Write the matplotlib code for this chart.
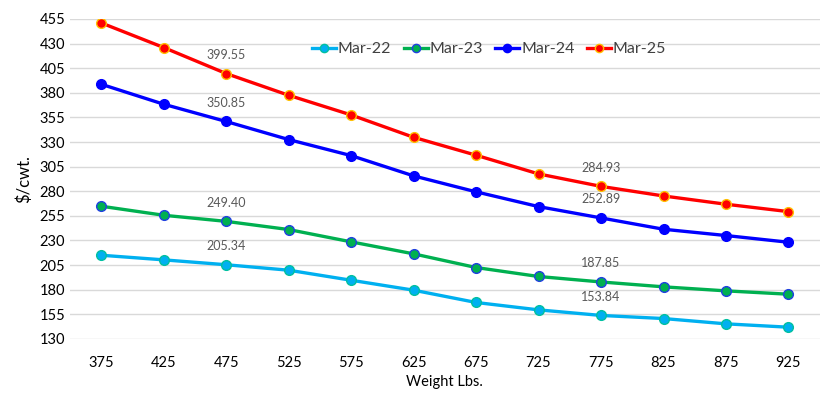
import matplotlib.pyplot as plt
import numpy as np

# Data
weights = [375, 425, 475, 525, 575, 625, 675, 725, 775, 825, 875, 925]
mar22 = [215.0, 210.3, 205.34, 199.8, 189.6, 179.5, 167.0, 159.5, 153.84, 150.7, 145.3, 141.9]
mar23 = [264.8, 255.6, 249.40, 241.1, 228.6, 216.4, 202.5, 193.4, 187.85, 182.9, 178.8, 175.4]
mar24 = [388.7, 368.4, 350.85, 332.5, 316.2, 295.6, 279.4, 264.4, 252.89, 241.4, 235.0, 228.2]
mar25 = [451.0, 426.0, 399.55, 377.5, 357.5, 334.8, 316.6, 297.6, 284.93, 275.2, 266.8, 259.3]
labels = ['Mar-22', 'Mar-23', 'Mar-24', 'Mar-25']
label_idx = [2, 8]  # points that carry a value label (475 and 775)

plt.rcParams['font.family'] = ['Lato', 'DejaVu Sans']

fig = plt.figure(figsize=(8.28, 3.95), dpi=100)
ax = fig.add_axes([0.0845, 0.142, 0.9055, 0.810])

x = np.arange(len(weights))
styles = [
    (mar22, '#00B0F0', '#00B0F0', '#00C0A0'),
    (mar23, '#00B050', '#00B050', '#2040E0'),
    (mar24, '#0000FF', '#0000FF', '#0000FF'),
    (mar25, '#FF0000', '#FF0000', '#FFC000'),
]
for (vals, col, face, edge), lab in zip(styles, labels):
    ax.plot(x, vals, color=col, linewidth=2.4, marker='o', markersize=7,
            markerfacecolor=face, markeredgecolor=edge, markeredgewidth=1.0,
            label=lab, zorder=3)
    for i in label_idx:
        ax.annotate(f'{vals[i]:.2f}', (x[i], vals[i]), xytext=(0, 9),
                    textcoords='offset points', ha='center', va='bottom',
                    fontsize=9, color='#595959')

ax.set_xlim(-0.5, len(weights) - 0.5)
ax.set_ylim(130, 455)
ax.set_yticks(np.arange(130, 456, 25))
ax.set_xticks(x)
ax.set_xticklabels([str(w) for w in weights])
ax.tick_params(length=0, labelsize=10.5, colors='#000000')
ax.tick_params(axis='x', pad=12)
ax.grid(axis='y', color='#D9D9D9', linewidth=1)
ax.set_axisbelow(True)
for s in ax.spines.values():
    s.set_visible(False)

ax.set_ylabel('$/cwt.', fontsize=12, labelpad=5)
ax.set_xlabel('Weight Lbs.', fontsize=10.5, labelpad=4)

ax.legend(loc='center', bbox_to_anchor=(0.559, 0.906), ncol=4, frameon=False,
          fontsize=11.5, handlelength=1.5, handletextpad=0.1, columnspacing=0.8,
          markerscale=0.85, labelcolor='#404040')

fig.savefig('out.png', dpi=100)
